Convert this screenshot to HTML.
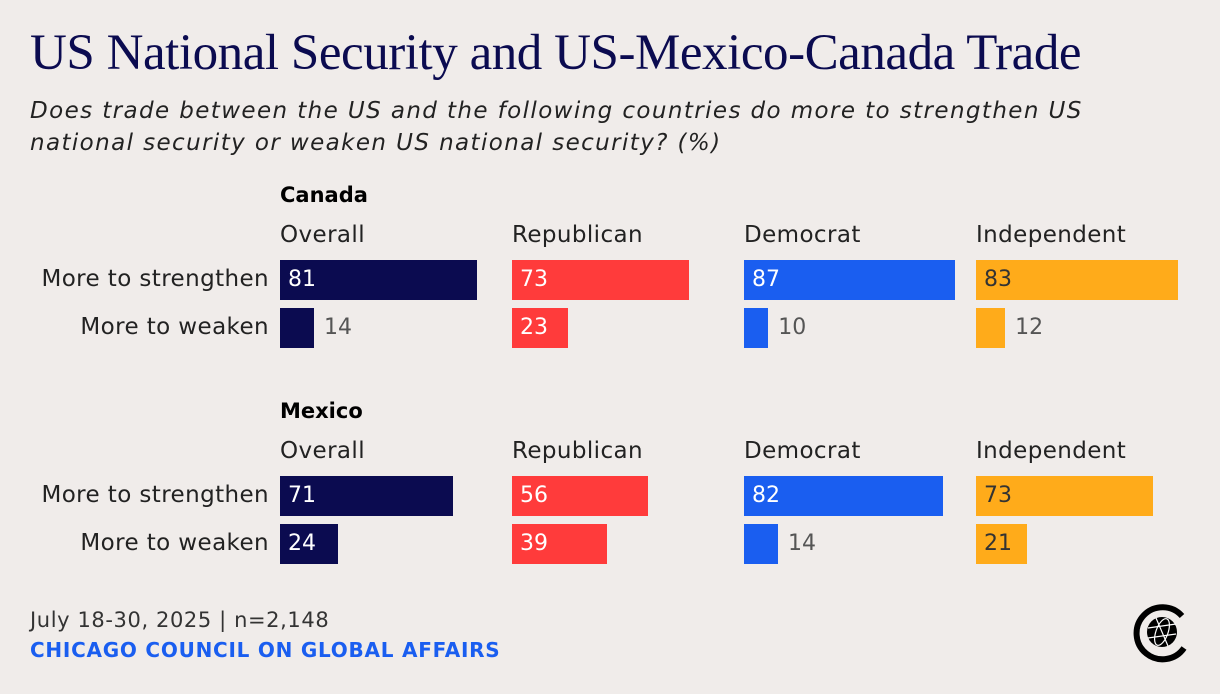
<!DOCTYPE html>
<html><head><meta charset="utf-8"><style>
body{margin:0;width:1220px;height:694px;background:#f0ecea;font-family:"DejaVu Sans",sans-serif;overflow:hidden;position:relative}
.t{position:absolute;white-space:nowrap}
</style></head><body>
<div class="t" style="left:30px;top:24px;font-family:'Liberation Serif',serif;font-size:51px;color:#0b0b50;letter-spacing:-0.45px">US National Security and US-Mexico-Canada Trade</div>
<div class="t" style="left:30px;top:95px;font-size:23px;font-style:italic;color:#222;line-height:32px;letter-spacing:1.4px">Does trade between the US and the following countries do more to strengthen US<br>national security or weaken US national security? (%)</div>
<div id="chart"></div>
<div class="t" style="left:30px;top:608px;font-size:21px;color:#333;letter-spacing:0.6px">July 18-30, 2025 | n=2,148</div>
<div class="t" style="left:30px;top:638px;font-size:20px;font-weight:bold;color:#1a5ef0;letter-spacing:0.75px">CHICAGO COUNCIL ON GLOBAL AFFAIRS</div>
<svg style="position:absolute;left:1130px;top:600px" width="64" height="64" viewBox="0 0 64 64">
<path d="M52 16 A26 26 0 1 0 54 48" fill="none" stroke="#000" stroke-width="6"/>
<circle cx="32" cy="32" r="15" fill="#000"/>
<g fill="none" stroke="#fff" stroke-width="1.2"><ellipse cx="32" cy="32" rx="6" ry="14" transform="rotate(20 32 32)"/><line x1="18" y1="28" x2="46" y2="24"/><line x1="18" y1="38" x2="46" y2="34"/><line x1="26" y1="18" x2="38" y2="46"/></g>
</svg>
<script>
const groups=["Canada","Mexico"];
const parties=["Overall","Republican","Democrat","Independent"];
const rows=["More to strengthen","More to weaken"];
const canadaStrengthen=[81,73,87,83];
const canadaWeaken=[14,23,10,12];
const mexicoStrengthen=[71,56,82,73];
const mexicoWeaken=[24,39,14,21];
const data=[[canadaStrengthen,canadaWeaken],[mexicoStrengthen,mexicoWeaken]];
const colors=["#0b0b50","#ff3b3b","#1a5ef0","#ffab1a"];
const textCol=["#fff","#fff","#fff","#333"];
const colX=[280,512,744,976];
const groupY=[196,412];
const scale=v=>v*2.43;
const c=document.getElementById('chart');
function mk(name,style,txt){const d=document.createElement('div');d.className='t';


d.style.cssText=style;if(txt!=null)d.textContent=txt;c.appendChild(d);return d;}
groups.forEach((g,gi)=>{
  const y0=groupY[gi];
  mk('group-title-'+g.toLowerCase(),`left:280px;top:${y0-13}px;font-size:21px;font-weight:bold;color:#000`,g);
  parties.forEach((p,pi)=>mk('column-header-'+p.toLowerCase(),`left:${colX[pi]}px;top:${y0+26}px;font-size:23px;letter-spacing:0.4px;color:#222`,p));
  rows.forEach((r,ri)=>{
    const by=y0+64+ri*48;
    mk('row-label',`right:${1220-269}px;top:${by+6}px;font-size:23px;letter-spacing:0.4px;color:#222`,r);
    data[gi][ri].forEach((v,pi)=>{
      const w=scale(v);
      mk('bar-'+g.toLowerCase()+'-'+parties[pi].toLowerCase(),`left:${colX[pi]}px;top:${by}px;width:${w}px;height:40px;background:${colors[pi]}`);
      const inside=v>=20;
      mk('value-label',`left:${inside?colX[pi]+8:colX[pi]+w+10}px;top:${by+7}px;font-size:22px;color:${inside?textCol[pi]:'#555'}`,String(v));
    });
  });
});
</script>
</body></html>
